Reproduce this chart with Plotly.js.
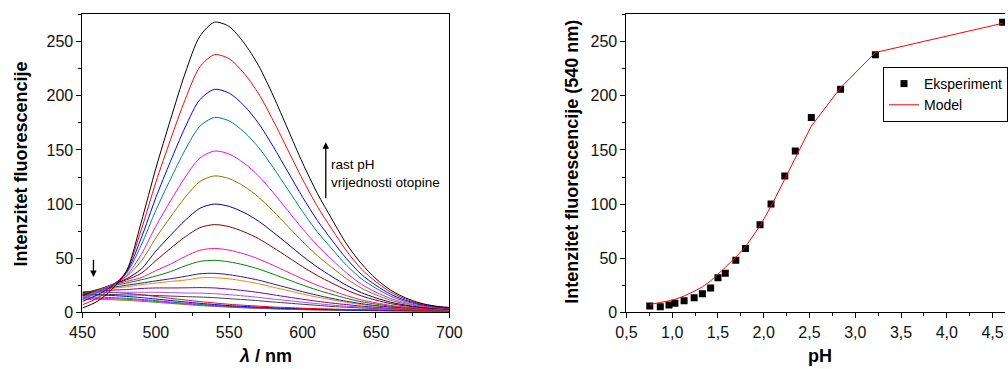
<!DOCTYPE html>
<html>
<head>
<meta charset="utf-8">
<script src="https://cdn.plot.ly/plotly-3.0.1.min.js"></script>
<style>
html,body{margin:0;padding:0;background:#fff;}
#chart{width:1008px;height:369px;}
</style>
</head>
<body>
<div id="chart"></div>
<script>
// ---------- Left panel: emission spectra ----------
const wavelength = [450,460,470,480,490,500,510,520,530,540,550,560,570,580,590,600,610,620,630,640,650,660,670,680,690,700];

const spec01 = [4,10,21,38,83,133,178,221,255,268,264,249,228,200,169,138,110,86,63,45,31,20.5,13.4,8.6,5.8,4.5];
const spec02 = [7,13,23,38,76,120.1,159.5,196.6,226.7,238,234.2,221,202,177.1,149.9,122.8,98,76.7,56.6,40.1,28.2,18.7,12.3,8,5.6,3.6];
const spec03 = [10,16,24,37,68.4,105.9,139.5,171,196.5,206,202.5,191.1,174.6,153.1,129.7,106.4,85,66.6,49.4,35.1,24.9,16.7,11.1,7.4,5.3,3.6];
const spec04 = [12,18,25,36,61.9,94.2,123,150.1,171.9,180,176.8,166.7,152.4,133.6,113.4,93,74.4,58.5,43.4,31,22.2,14.9,10.1,6.9,5.1,3.5];
const spec05 = [13,19,25,34,53.3,79.5,102.9,124.8,142.5,149,146.2,137.9,126,110.6,93.8,77.1,61.8,48.6,36.3,26,18.6,12.8,8.8,6.1,4.5,3.3];
const spec06 = [14,20,25.5,33,47.1,68.7,88.1,106.3,120.8,126,123.5,116.5,106.4,93.4,79.3,65.3,52.4,41.4,31,22.4,16.1,11.1,7.8,5.6,4.2,3.1];
const spec07 = [15,20,25.5,31,39.9,56.5,71.2,85,96.1,100,97.8,92.2,84.2,73.9,63,51.9,41.8,33,24.9,18.2,13.3,9.3,6.7,4.9,3.8,2.9];
const spec08 = [16,20.5,25.5,30,36,47.7,59.1,69.7,78.2,81,79.1,74.4,68,59.8,51,42.1,34,27,20.5,15.2,11.2,8,5.9,4.4,3.6,2.8];
const spec09 = [16,20.5,25,28.5,32,38.5,44.5,51.6,57.3,59,57.4,54,49.3,43.4,37.1,30.8,25,20,15.4,11.5,8.7,6.4,4.8,3.7,3.1,2.5];
const spec10 = [17,21,24.5,27,30,33.5,37.6,42.9,47,48,46.6,43.8,40,35.2,30.2,25.2,20.6,16.6,12.9,9.8,7.6,5.6,4.5,3.6,3,2.5];
const spec11 = [18,20.5,23,25,27,29,31,33.2,35.6,36,34.7,32.5,29.7,26.2,22.6,19,15.8,12.8,10.2,8,6.2,4.9,4,3.3,2.8,2.5];
const spec12 = [17,19.5,22,23.5,25.5,27,28.5,29.8,31.8,32,30.9,28.9,26.4,23.2,20.1,16.9,14,11.5,9.1,7.2,5.7,4.4,3.7,3.1,2.7,2.3];
const spec13 = [18,19.5,20.5,21,22,22.5,22.5,22.6,22.8,22.5,21.4,20,18.3,16.2,14.1,12.1,10.2,8.5,7.1,5.7,4.7,3.9,3.3,2.9,2.6,2.4];
const spec14 = [17,18,18.5,18.5,18.5,18.5,18.2,17.8,17.7,17.2,16.3,15.1,13.8,12.2,10.8,9.3,8,6.7,5.6,4.8,4,3.3,3,2.6,2.4,2.1];
const spec15 = [16,16.5,16.5,16,16,15.5,15,14.5,14.1,13.5,12.6,11.7,10.7,9.5,8.5,7.4,6.4,5.4,4.7,4,3.5,3,2.6,2.4,2.2,2];
const spec16 = [19,19,18.4,17.5,16.2,14.6,12.9,11.4,9.9,8.6,7.4,6.5,5.7,4.9,4.4,3.8,3.4,3,2.7,2.5,2.3,2.1,1.9,1.7,1.6,1.5];
const spec17 = [16,16,15.5,14.7,13.6,12.3,10.9,9.6,8.3,7.2,6.2,5.4,4.8,4.2,3.7,3.2,2.9,2.6,2.2,2.1,1.9,1.8,1.6,1.4,1.4,1.3];
const spec18 = [14,14,13.6,12.9,11.9,10.8,9.5,8.4,7.3,6.3,5.5,4.8,4.2,3.6,3.2,2.8,2.5,2.2,2,1.8,1.7,1.5,1.4,1.3,1.2,1.1];
const spec19 = [13,13,12.6,12,11.1,10,8.8,7.8,6.8,5.9,5.1,4.4,3.9,3.4,3,2.6,2.3,2.1,1.8,1.7,1.6,1.4,1.3,1.2,1.1,1];
const spec20 = [12,12,11.6,11,10.2,9.2,8.2,7.2,6.2,5.4,4.7,4.1,3.6,3.1,2.8,2.4,2.2,1.9,1.7,1.6,1.4,1.3,1.2,1.1,1,1];

const spectra = [spec20,spec19,spec18,spec17,spec16,spec15,spec14,spec13,spec12,spec11,spec10,spec09,spec08,spec07,spec06,spec05,spec04,spec03,spec02,spec01];
const specColors = ['#808000','#FF00FF','#008080','#0000FF','#FF0000','#404040','#A050FF','#800080','#FF8000','#2020A0','#008000','#FF1493','#800000','#000080','#808000','#FF00FF','#008080','#0000FF','#FF0000','#000000'];

// ---------- Right panel: intensity at 540 nm vs pH ----------
const phValues = [0.755,0.87,0.965,1.03,1.13,1.24,1.33,1.42,1.50,1.58,1.695,1.80,1.96,2.08,2.23,2.345,2.52,2.84,3.22,4.61];
const intensityExp = [5.8,5.2,6.7,8.3,10.7,13.5,17.2,22.5,32,36,48,59,81,100,126,149,180,206,238,268];
const intensityModel = [7.2,8.9,10.6,12,15,19.5,23.5,29,35,41.5,51,60.5,80,98,123,143,172,207.5,240,267];

const FONT = 'Liberation Sans, Arial, sans-serif';
const W = 1008, H = 369;

const traces = [];
spectra.forEach((s, i) => {
  traces.push({
    x: wavelength, y: s, type: 'scatter', mode: 'lines',
    line: {color: specColors[i], width: 1, shape: 'spline', smoothing: 0.8},
    xaxis: 'x', yaxis: 'y', showlegend: false, hoverinfo: 'skip'
  });
});
traces.push({
  x: phValues, y: intensityExp, type: 'scatter', mode: 'markers', name: 'Eksperiment',
  marker: {symbol: 'square', size: 7, color: '#000000'},
  xaxis: 'x2', yaxis: 'y2'
});
traces.push({
  x: phValues, y: intensityModel, type: 'scatter', mode: 'lines', name: 'Model',
  line: {color: '#FF0000', width: 1},
  xaxis: 'x2', yaxis: 'y2'
});

const yTop = 14, yBot = 312.3;
const yDom = [1 - yBot / H, 1 - yTop / H];
const tickFont = {family: FONT, size: 16, color: '#111'};
const titleFont = {family: FONT, size: 18, color: '#000'};

function minorTicks(d) {
  return {ticks: 'outside', ticklen: 3, tickwidth: 1, tickcolor: '#000', dtick: d, showgrid: false};
}
function axisCommon(extra) {
  return Object.assign({
    showline: true, linecolor: '#000', linewidth: 1,
    ticks: 'outside', ticklen: 5, tickwidth: 1, tickcolor: '#000',
    showgrid: false, zeroline: false, tickfont: tickFont
  }, extra);
}

const layout = {
  width: W, height: H,
  margin: {l: 0, r: 0, t: 0, b: 0},
  paper_bgcolor: '#fff', plot_bgcolor: '#fff',
  separators: ', ',
  showlegend: true,
  font: {family: FONT, size: 14, color: '#000'},
  xaxis: axisCommon({domain: [82.7 / W, 450.7 / W], range: [450, 700], tick0: 450, dtick: 50,
    mirror: true, anchor: 'y', minor: minorTicks(25)}),
  yaxis: axisCommon({domain: yDom, range: [0, 275.6], tick0: 0, dtick: 50, mirror: true, anchor: 'x',
    minor: minorTicks(25)}),
  xaxis2: axisCommon({domain: [628.3 / W, 1], range: [0.5, 4.636], tick0: 0.5, dtick: 0.5, tickformat: '.1f',
    mirror: true, anchor: 'y2', minor: minorTicks(0.25)}),
  yaxis2: axisCommon({domain: yDom, range: [0, 275.6], tick0: 0, dtick: 50, mirror: false, anchor: 'x2',
    minor: minorTicks(25)}),
  legend: {x: 886 / W, y: 1 - 67 / H, xanchor: 'left', yanchor: 'top',
    bordercolor: '#000', borderwidth: 1, bgcolor: '#fff',
    font: {family: FONT, size: 14, color: '#000'}, tracegroupgap: 0},
  annotations: [
    {xref: 'paper', yref: 'paper', x: 21.5 / W, y: 1 - 164 / H, text: '<b>Intenzitet fluorescencije</b>',
     textangle: -90, showarrow: false, xanchor: 'center', yanchor: 'middle', font: titleFont},
    {xref: 'paper', yref: 'paper', x: 266 / W, y: 1 - 356 / H, text: '<b><i>λ</i> / nm</b>',
     showarrow: false, xanchor: 'center', yanchor: 'middle', font: titleFont},
    {xref: 'paper', yref: 'paper', x: 573.5 / W, y: 1 - 162 / H, text: '<b>Intenzitet fluorescencije (540 nm)</b>',
     textangle: -90, showarrow: false, xanchor: 'center', yanchor: 'middle', font: titleFont},
    {xref: 'paper', yref: 'paper', x: 822 / W, y: 1 - 356 / H, text: '<b>pH</b>',
     showarrow: false, xanchor: 'center', yanchor: 'middle', font: titleFont},
    {xref: 'x', yref: 'y', axref: 'x', ayref: 'y', x: 615.8, y: 157, ax: 615.8, ay: 104, text: '',
     showarrow: true, arrowhead: 2, arrowsize: 1, arrowwidth: 1.3, arrowcolor: '#000'},
    {xref: 'x', yref: 'y', x: 618, y: 128, text: 'rast pH<br>vrijednosti otopine', showarrow: false,
     xanchor: 'left', yanchor: 'middle', align: 'left', font: {family: FONT, size: 13.5, color: '#000'}},
    {xref: 'x', yref: 'y', axref: 'x', ayref: 'y', x: 457.5, y: 32.5, ax: 457.5, ay: 50, text: '',
     showarrow: true, arrowhead: 2, arrowsize: 1, arrowwidth: 1.3, arrowcolor: '#000'}
  ]
};

Plotly.newPlot('chart', traces, layout, {displayModeBar: false, staticPlot: true});
</script>
</body>
</html>
